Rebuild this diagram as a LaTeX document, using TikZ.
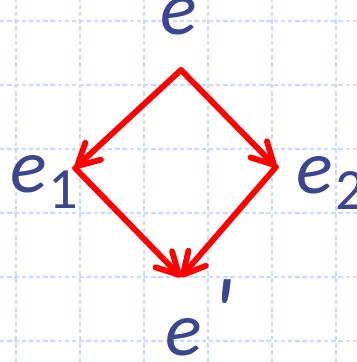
\documentclass[tikz,border=0pt]{standalone}
\usepackage{fontspec}
\setmainfont{Carlito}
\usetikzlibrary{arrows.meta}
\definecolor{labelblue}{HTML}{3B4690}
\definecolor{gridblue}{HTML}{C9DAF8}
\definecolor{arrowred}{HTML}{FF0000}
\newcommand{\subnum}[1]{\kern1pt\raisebox{-7.5pt}{\fontsize{26}{28}\selectfont\upshape #1}}

\begin{document}
\begin{tikzpicture}[
    lbl/.style={text=labelblue, inner sep=0pt, font=\fontsize{34}{38}\selectfont\itshape},
    gridline/.style={draw=gridblue, line width=0.8pt, dash pattern=on 2pt off 1.2pt},
    arr/.style={draw=arrowred, line width=2.6pt, line cap=round, line join=round,
        -{Straight Barb[length=3.4mm, width=3.6mm, line cap=round, line join=round]}}
]
                    \useasboundingbox (0,0) rectangle (5.5625,5.65625);
                    % Grid
                    \foreach \x in {0.25,1.25,...,5.25}
                        \draw[gridline] (\x,0) -- (\x,5.65625);
                    \foreach \y in {0.328,1.328,...,5.328}
                        \draw[gridline] (0,\y) -- (5.5625,\y);
                    % Nodes
                    \node[lbl, anchor=base] (e) at (2.8,5.11) {e};
                    \node[lbl, anchor=base west] (e1) at (0.15,2.656) {e\subnum{1}};
                    \node[lbl, anchor=base west] (e2) at (4.63,2.64) {e\subnum{2}};
                    \node[lbl, anchor=base west] (e') at (2.58,0.094) {e\kern4pt\raisebox{4pt}{\fontsize{44}{44}\selectfont\textquotesingle}};
                    \coordinate (top) at (2.828,4.5625);
                    \coordinate (left) at (1.172,3.031);
                    \coordinate (right) at (4.3125,3.047);
                    \coordinate (bottom) at (2.828,1.328);
                    % Edges
                    \draw[arr] (top) -- (left);
                    \draw[arr] (top) -- (right);
                    \draw[arr] (left) -- (bottom);
                    \draw[arr] (right) -- (bottom);
                \end{tikzpicture}
\end{document}
